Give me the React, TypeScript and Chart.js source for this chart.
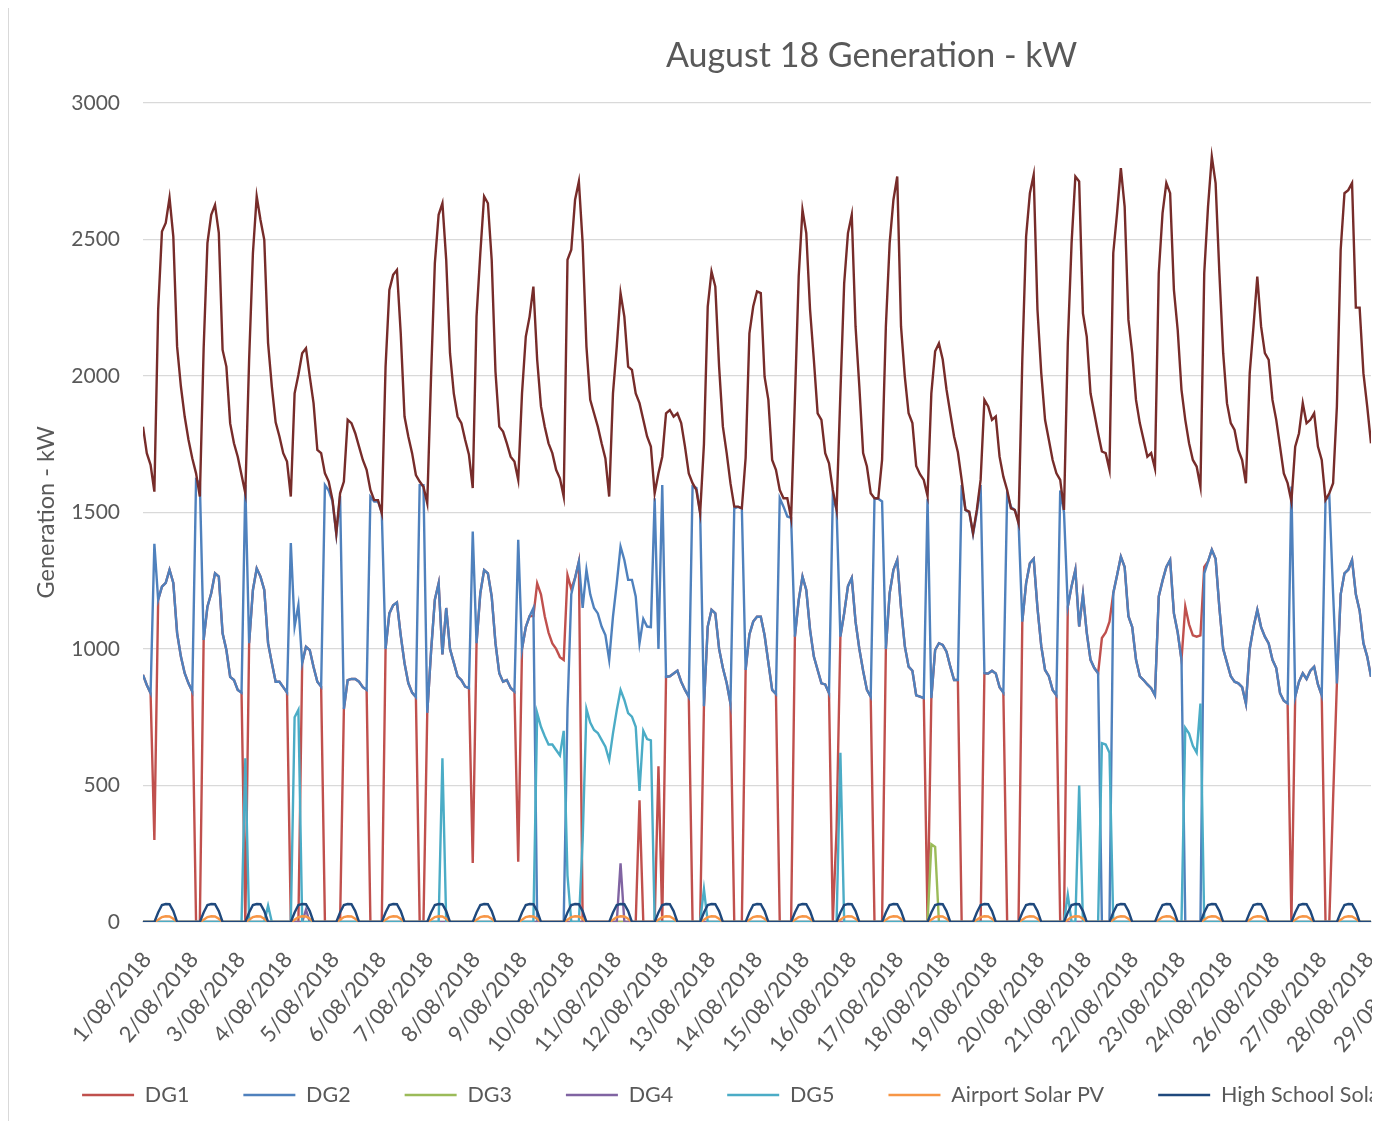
import React, { useEffect, useRef } from 'react';
import { Chart, registerables } from 'chart.js';

Chart.register(...registerables);

// Date tick labels as printed under the axis (25/08 has no label in the source sheet)
const dateLabels = [
  '1/08/2018', '2/08/2018', '3/08/2018', '4/08/2018', '5/08/2018', '6/08/2018', '7/08/2018',
  '8/08/2018', '9/08/2018', '10/08/2018', '11/08/2018', '12/08/2018', '13/08/2018', '14/08/2018',
  '15/08/2018', '16/08/2018', '17/08/2018', '18/08/2018', '19/08/2018', '20/08/2018', '21/08/2018',
  '22/08/2018', '23/08/2018', '24/08/2018', '26/08/2018', '27/08/2018', '28/08/2018', '29/08/2018',
];
// the source axis prints one date label every ~24.8 hours of readings
const LABEL_STEP_HOURS = 24.81;

// readings every 2 hours (12 per day), one row per day, final value = end of record
const HOURS_PER_SLOT = 2;
const SLOTS_PER_DAY = 12;
const DAYS = 27;
const Z = [0, 0, 0, 0, 0, 0, 0, 0, 0, 0, 0, 0];

const totalKw = [
  1814, 1717, 1674, 1576, 2242, 2529, 2560, 2652, 2510, 2107, 1961, 1851,
  1766, 1698, 1643, 1558, 2100, 2486, 2590, 2626, 2524, 2095, 2034, 1826,
  1753, 1704, 1637, 1570, 2059, 2449, 2657, 2571, 2498, 2120, 1960, 1830,
  1778, 1717, 1686, 1558, 1936, 2004, 2083, 2101, 1997, 1900, 1729, 1717,
  1643, 1613, 1546, 1424, 1570, 1613, 1839, 1827, 1790, 1741, 1692, 1656,
  1582, 1545, 1545, 1497, 2034, 2315, 2370, 2388, 2156, 1851, 1778, 1717,
  1637, 1613, 1594, 1533, 1997, 2412, 2590, 2632, 2425, 2083, 1936, 1851,
  1827, 1766, 1711, 1589, 2217, 2449, 2657, 2632, 2425, 2015, 1814, 1796,
  1753, 1704, 1686, 1619, 1936, 2144, 2217, 2327, 2059, 1888, 1814, 1753,
  1717, 1656, 1625, 1558, 2425, 2462, 2645, 2712, 2486, 2107, 1912, 1863,
  1814, 1753, 1698, 1558, 1936, 2107, 2303, 2217, 2034, 2022, 1936, 1900,
  1839, 1778, 1741, 1570, 1643, 1704, 1863, 1875, 1851, 1863, 1827, 1741,
  1643, 1607, 1582, 1497, 1750, 2254, 2382, 2327, 2034, 1814, 1717, 1607,
  1521, 1521, 1515, 1700, 2156, 2254, 2309, 2303, 1997, 1912, 1692, 1656,
  1582, 1552, 1552, 1479, 1912, 2364, 2608, 2523, 2242, 2059, 1863, 1839,
  1717, 1680, 1582, 1509, 1936, 2339, 2523, 2590, 2181, 1961, 1717, 1668,
  1570, 1552, 1552, 1692, 2181, 2486, 2645, 2730, 2181, 1997, 1863, 1827,
  1670, 1640, 1619, 1560, 1936, 2090, 2119, 2060, 1950, 1863, 1778, 1720,
  1619, 1509, 1503, 1424, 1509, 1619, 1912, 1888, 1839, 1851, 1704, 1631,
  1582, 1515, 1509, 1460, 2059, 2510, 2669, 2736, 2242, 2010, 1839, 1766,
  1692, 1643, 1619, 1509, 2119, 2486, 2730, 2712, 2229, 2144, 1936, 1863,
  1790, 1723, 1717, 1656, 2450, 2596, 2761, 2620, 2205, 2083, 1912, 1827,
  1766, 1704, 1717, 1661, 2376, 2596, 2706, 2669, 2315, 2168, 1949, 1839,
  1753, 1692, 1668, 1594, 2376, 2620, 2803, 2706, 2376, 2083, 1900, 1827,
  1802, 1729, 1692, 1607, 2010, 2181, 2364, 2181, 2083, 2059, 1912, 1839,
  1741, 1643, 1607, 1540, 1741, 1790, 1900, 1827, 1839, 1863, 1741, 1692,
  1546, 1570, 1607, 1888, 2462, 2669, 2680, 2706, 2250, 2250, 2010, 1888,
  1753,
];

const dg2Kw = [
  905, 868, 838, 1385, 1180, 1228, 1242, 1290, 1242, 1058, 972, 911,
  874, 844, 1619, 1607, 1033, 1155, 1204, 1277, 1265, 1057, 996, 898,
  886, 850, 840, 1600, 1021, 1216, 1295, 1265, 1216, 1021, 948, 880,
  880, 860, 840, 1388, 1082, 1161, 948, 1008, 996, 934, 880, 862,
  1600, 1580, 1540, 1420, 1560, 780, 886, 890, 890, 880, 860, 850,
  1557, 1540, 1540, 1500, 1000, 1130, 1160, 1170, 1050, 948, 875, 840,
  824, 1600, 1600, 766, 990, 1180, 1240, 980, 1150, 1000, 950, 900,
  886, 862, 856, 1430, 1021, 1204, 1289, 1277, 1192, 1021, 911, 880,
  886, 857, 844, 1400, 1000, 1080, 1120, 1150, 0, 0, 0, 0,
  0, 0, 0, 0, 780, 1200, 1260, 1320, 1150, 1290, 1200, 1150,
  1130, 1082, 1051, 960, 1118, 1240, 1375, 1326, 1253, 1253, 1192, 1021,
  1110, 1082, 1080, 1552, 1000, 1600, 898, 900, 910, 920, 880, 850,
  825, 1595, 1590, 1500, 790, 1082, 1143, 1130, 1000, 930, 875, 800,
  1515, 1520, 1515, 923, 1053, 1100, 1118, 1118, 1050, 950, 850, 835,
  1552, 1521, 1485, 1480, 1045, 1179, 1265, 1216, 1070, 972, 923, 874,
  870, 838, 1558, 1510, 1045, 1130, 1230, 1260, 1100, 1000, 920, 850,
  825, 1550, 1550, 1540, 1000, 1204, 1290, 1326, 1150, 1010, 935, 920,
  830, 825, 820, 1550, 820, 996, 1021, 1015, 990, 935, 886, 886,
  1600, 1509, 1500, 1420, 1500, 1600, 911, 910, 920, 910, 860, 840,
  1570, 1520, 1509, 1470, 1100, 1240, 1314, 1330, 1150, 1010, 923, 900,
  850, 830, 1580, 1500, 1155, 1230, 1290, 1082, 1200, 1060, 960, 930,
  911, 0, 0, 0, 1204, 1270, 1338, 1300, 1120, 1080, 960, 900,
  886, 870, 856, 830, 1192, 1250, 1300, 1326, 1130, 1060, 960, 0,
  0, 0, 0, 0, 1277, 1320, 1363, 1330, 1150, 1000, 950, 900,
  880, 874, 860, 800, 1000, 1080, 1143, 1080, 1045, 1020, 960, 930,
  838, 810, 800, 1595, 825, 880, 911, 890, 920, 935, 870, 830,
  1546, 1560, 1204, 874, 1200, 1277, 1290, 1326, 1200, 1140, 1021, 972,
  898,
];

const dg1Kw = [
  905, 868, 838, 300, 1180, 1228, 1242, 1290, 1242, 1058, 972, 911,
  874, 844, 0, 0, 1033, 1155, 1204, 1277, 1265, 1057, 996, 898,
  886, 850, 840, 0, 1021, 1216, 1295, 1265, 1216, 1021, 948, 880,
  880, 860, 840, 0, 0, 0, 948, 1008, 996, 934, 880, 862,
  0, 0, 0, 0, 0, 780, 886, 890, 890, 880, 860, 850,
  0, 0, 0, 0, 1000, 1130, 1160, 1170, 1050, 948, 875, 840,
  824, 0, 0, 766, 990, 1180, 1240, 980, 1150, 1000, 950, 900,
  886, 862, 856, 216, 1021, 1204, 1289, 1277, 1192, 1021, 911, 880,
  886, 857, 844, 221, 1000, 1080, 1120, 1120, 1240, 1200, 1120, 1060,
  1020, 1000, 970, 960, 1270, 1220, 1260, 1320, 0, 0, 0, 0,
  0, 0, 0, 0, 0, 0, 0, 0, 0, 0, 0, 446,
  0, 0, 0, 0, 570, 0, 898, 900, 910, 920, 880, 850,
  825, 0, 0, 0, 790, 1082, 1143, 1130, 1000, 930, 875, 800,
  0, 0, 0, 923, 1053, 1100, 1118, 1118, 1050, 950, 850, 835,
  0, 0, 0, 0, 1045, 1179, 1265, 1216, 1070, 972, 923, 874,
  870, 838, 0, 340, 1045, 1130, 1230, 1260, 1100, 1000, 920, 850,
  825, 0, 0, 0, 1000, 1204, 1290, 1326, 1150, 1010, 935, 920,
  830, 825, 820, 0, 820, 996, 1021, 1015, 990, 935, 886, 886,
  0, 0, 0, 0, 0, 0, 911, 910, 920, 910, 860, 840,
  0, 0, 0, 0, 1100, 1240, 1314, 1330, 1150, 1010, 923, 900,
  850, 830, 0, 0, 1155, 1230, 1290, 1082, 1200, 1060, 960, 930,
  911, 1040, 1060, 1100, 1204, 1270, 1338, 1300, 1120, 1080, 960, 900,
  886, 870, 856, 830, 1192, 1250, 1300, 1326, 1130, 1060, 960, 1155,
  1090, 1050, 1045, 1050, 1300, 1320, 1363, 1330, 1150, 1000, 950, 900,
  880, 874, 860, 800, 1000, 1080, 1143, 1080, 1045, 1020, 960, 930,
  838, 810, 800, 0, 825, 880, 911, 890, 920, 935, 870, 830,
  0, 0, 450, 874, 1200, 1277, 1290, 1326, 1200, 1140, 1021, 972,
  898,
];

const dg5Kw = [
  ...Z,
  ...Z,
  0, 0, 0, 600, 0, 0, 0, 0, 0, 60, 0, 0,
  0, 0, 0, 0, 750, 777, 0, 0, 0, 0, 0, 0,
  ...Z,
  ...Z,
  0, 0, 0, 0, 0, 0, 0, 600, 0, 0, 0, 0,
  ...Z,
  0, 0, 0, 0, 0, 0, 0, 0, 765, 715, 680, 650,
  650, 630, 610, 700, 170, 0, 0, 0, 300, 780, 730, 703,
  692, 667, 642, 593, 691, 776, 850, 813, 765, 752, 715, 480,
  700, 670, 665, 0, 0, 0, 0, 0, 0, 0, 0, 0,
  0, 0, 0, 0, 120, 0, 0, 0, 0, 0, 0, 0,
  ...Z,
  ...Z,
  0, 0, 0, 0, 620, 0, 0, 0, 0, 0, 0, 0,
  ...Z,
  ...Z,
  ...Z,
  ...Z,
  0, 0, 0, 0, 100, 0, 0, 500, 0, 0, 0, 0,
  0, 655, 650, 620, 0, 0, 0, 0, 0, 0, 0, 0,
  0, 0, 0, 0, 0, 0, 0, 0, 0, 0, 0, 711,
  690, 645, 620, 800, 0, 0, 0, 0, 0, 0, 0, 0,
  ...Z,
  ...Z,
  ...Z,
  0,
];

const dg3Kw = [
  ...Z, ...Z, ...Z, ...Z, ...Z, ...Z, ...Z, ...Z, ...Z, ...Z, ...Z, ...Z, ...Z, ...Z, ...Z, ...Z, ...Z,
  0, 0, 0, 0, 285, 275, 0, 0, 0, 0, 0, 0,
  ...Z, ...Z, ...Z, ...Z, ...Z, ...Z, ...Z, ...Z, ...Z,
  0,
];

const dg4Kw = [
  ...Z, ...Z, ...Z,
  0, 0, 0, 0, 0, 0, 0, 45, 0, 0, 0, 0,
  ...Z, ...Z, ...Z, ...Z, ...Z, ...Z,
  0, 0, 0, 0, 0, 0, 215, 0, 0, 0, 0, 0,
  ...Z, ...Z, ...Z, ...Z, ...Z, ...Z, ...Z, ...Z, ...Z, ...Z, ...Z, ...Z, ...Z, ...Z, ...Z, ...Z,
  0,
];

// daily solar profiles (same every day in the picture)
const airportSolarDay = [0, 0, 0, 0, 8, 18, 21, 20, 12, 0, 0, 0];
const highSchoolSolarDay = [0, 0, 0, 0, 35, 62, 66, 65, 40, 0, 0, 0];

const repeatDaily = (profile: number[]) => {
  const out: number[] = [];
  for (let d = 0; d < DAYS; d++) out.push(...profile);
  out.push(0);
  return out;
};

const toPoints = (values: number[]) => values.map((y, i) => ({ x: i * HOURS_PER_SLOT, y }));

const FONT = 'Lato, "Open Sans", sans-serif';
const GREY = '#595959';

const CANVAS_W = 1727;
const CANVAS_H = 1120;

export default function App() {
  const ref = useRef<HTMLCanvasElement | null>(null);

  useEffect(() => {
    if (!ref.current) return;
    const mk = (label: string, data: number[], color: string, order: number) => ({
      label,
      data: toPoints(data),
      borderColor: color,
      backgroundColor: color,
      borderWidth: 2.4,
      pointRadius: 0,
      tension: 0,
      fill: false,
      order,
    });
    const chart = new Chart(ref.current, {
      type: 'line',
      data: {
        datasets: [
          mk('DG1', dg1Kw, '#C0504D', 7),
          mk('DG2', dg2Kw, '#4F81BD', 6),
          mk('DG3', dg3Kw, '#9BBB59', 5),
          mk('DG4', dg4Kw, '#8064A2', 4),
          mk('DG5', dg5Kw, '#4BACC6', 3),
          mk('Airport Solar PV', repeatDaily(airportSolarDay), '#F79646', 2),
          mk('High School Solar', repeatDaily(highSchoolSolarDay), '#1F497D', 1),
          mk('Total Generation', totalKw, '#772C2A', 0),
        ],
      },
      options: {
        responsive: false,
        animation: false,
        events: [],
        layout: { padding: { left: 0, right: 0, top: 0, bottom: 9.25 } },
        plugins: {
          title: {
            display: true,
            text: 'August 18 Generation - kW',
            color: GREY,
            font: { family: FONT, size: 34, weight: 'normal' },
            padding: { top: 31, bottom: 26 },
          },
          legend: {
            position: 'bottom',
            labels: {
              usePointStyle: true,
              pointStyle: 'line',
              pointStyleWidth: 52,
              padding: 54,
              color: GREY,
              font: { family: FONT, size: 21.5 },
              sort: (a: any, b: any) => a.datasetIndex - b.datasetIndex,
            },
          },
          tooltip: { enabled: false },
        },
        scales: {
          x: {
            type: 'linear',
            min: 0,
            max: DAYS * SLOTS_PER_DAY * HOURS_PER_SLOT,
            grid: { display: false },
            border: { display: true, color: '#d9d9d9', width: 1.3 },
            afterBuildTicks: (s: any) => {
              s.ticks = dateLabels.map((_, k) => ({ value: k * LABEL_STEP_HOURS }));
            },
            ticks: {
              autoSkip: false,
              maxRotation: 50,
              minRotation: 50,
              padding: 17,
              labelOffset: 4,
              color: GREY,
              font: { family: FONT, size: 22 },
              callback: (_v: any, i: number) => dateLabels[i],
            },
            afterFit: (s: any) => {
              s.height = 108.25;
              // let the rotated date labels run below the axis box, as in the original
              s._computeLabelArea = () => undefined;
            },
          },
          y: {
            min: 0,
            max: 3000,
            ticks: {
              stepSize: 500,
              padding: 23,
              color: GREY,
              font: { family: FONT, size: 21 },
              callback: (v: any) => String(v),
            },
            grid: { color: '#d9d9d9', lineWidth: 1.3, drawTicks: false },
            border: { display: false },
            title: {
              display: true,
              text: 'Generation - kW',
              color: GREY,
              font: { family: FONT, size: 23.5 },
              padding: { top: 24, bottom: 0 },
            },
            afterFit: (s: any) => {
              s.width = 135;
            },
          },
          yRightSpace: {
            position: 'right',
            display: true,
            grid: { display: false },
            border: { display: false },
            ticks: { display: false },
            afterFit: (s: any) => {
              s.width = 364;
            },
          },
        },
      } as any,
    });
    return () => chart.destroy();
  }, []);

  return (
    <div style={{ position: 'relative', width: 1364, height: 1113, overflow: 'hidden', background: '#fff' }}>
      <div style={{ position: 'absolute', left: 0, top: -3, width: CANVAS_W, height: CANVAS_H }}>
        <canvas
          ref={ref}
          width={CANVAS_W}
          height={CANVAS_H}
          style={{ display: 'block', width: CANVAS_W, height: CANVAS_H }}
        />
        <div
          style={{
            position: 'absolute',
            left: 0,
            top: 0,
            width: CANVAS_W - 1,
            height: CANVAS_H - 1,
            border: '1px solid #d9d9d9',
            pointerEvents: 'none',
          }}
        />
      </div>
    </div>
  );
}
